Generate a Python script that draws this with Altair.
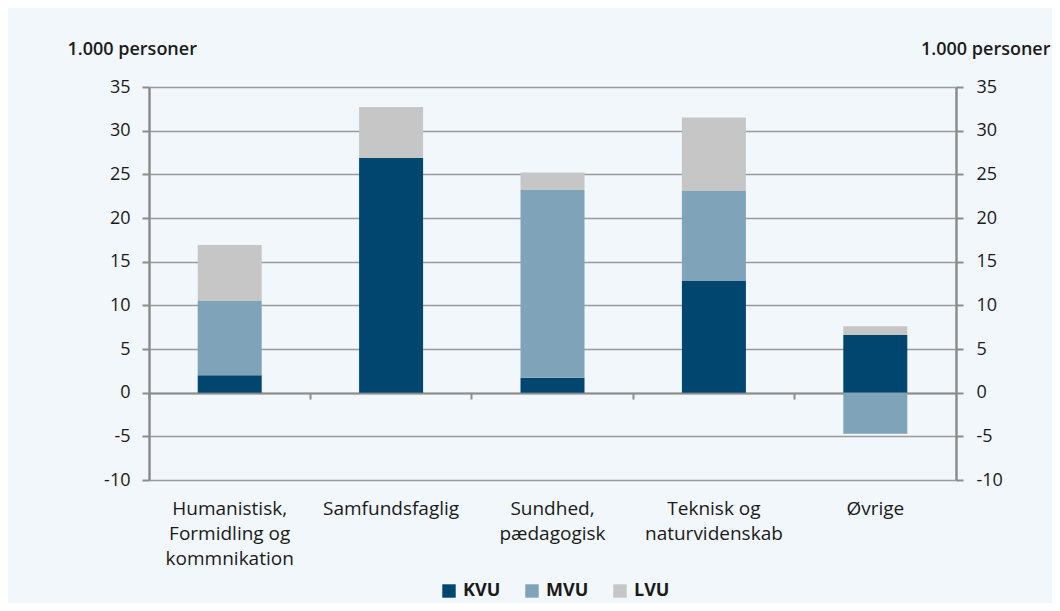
import altair as alt
import pandas as pd

categories = ["Humanistisk,|Formidling og|kommnikation", "Samfundsfaglig",
              "Sundhed,|pædagogisk", "Teknisk og|naturvidenskab", "Øvrige"]
series = ["KVU", "MVU", "LVU"]
kvu = [2.0, 26.9, 1.7, 12.8, 6.6]
mvu = [8.5, 0.0, 21.5, 10.3, -4.7]
lvu = [6.4, 5.8, 2.0, 8.4, 1.0]
y_ticks = [-10, -5, 0, 5, 10, 15, 20, 25, 30, 35]
colors = ["#00466e", "#7fa3b8", "#c6c6c6"]

rows = []
for i, c in enumerate(categories):
    for j, (s, vals) in enumerate(zip(series, [kvu, mvu, lvu])):
        rows.append({"cat": c, "serie": s, "value": vals[i], "ord": j})
df = pd.DataFrame(rows)

FONT = "Open Sans"
GRID = "#9a9a9a"
AXC = "#8c8c8c"
TXT = "#1a1a1a"

base = alt.Chart(df)

bars = base.mark_bar(size=64).encode(
    x=alt.X("cat:N", sort=categories,
            scale=alt.Scale(paddingInner=0, paddingOuter=0),
            axis=alt.Axis(title=None, labelExpr="split(datum.value, '|')",
                          domain=False, ticks=False, grid=False, labelAngle=0,
                          labelPadding=19, labelFontSize=19, labelLineHeight=25,
                          labelBaseline="top", labelColor=TXT, labelFont=FONT)),
    y=alt.Y("value:Q", stack="zero",
            scale=alt.Scale(domain=[-10, 35], nice=False, zero=False),
            axis=alt.Axis(values=y_ticks, labelExpr="datum.value + ''",
                          title="1.000 personer", titleAngle=0,
                          titleAlign="left", titleX=-82, titleY=-33,
                          titleBaseline="alphabetic", titleFontSize=18,
                          titleFontWeight=600, titleFont=FONT, titleColor=TXT,
                          grid=True, gridColor=GRID, gridWidth=1.6,
                          domainColor=AXC, domainWidth=2.5,
                          tickColor=AXC, tickWidth=2, tickSize=7,
                          labelPadding=12, labelFontSize=18, labelFont=FONT,
                          labelColor=TXT)),
    color=alt.Color("serie:N", scale=alt.Scale(domain=series, range=colors),
                    legend=alt.Legend(title=None, orient="none", legendX=291,
                                      legendY=495, direction="horizontal",
                                      symbolType="square", symbolSize=180,
                                      symbolStrokeWidth=0, labelFontSize=18,
                                      labelFontWeight="bold", labelFont=FONT,
                                      labelColor=TXT, columnPadding=22,
                                      labelOffset=5)),
    order=alt.Order("ord:Q"),
)

right = base.mark_bar(size=64, opacity=0).encode(
    x=alt.X("cat:N", sort=categories,
            axis=alt.Axis(title=None, orient="bottom", offset=-87, labels=False,
                          bandPosition=0, domain=True, domainColor=AXC,
                          domainWidth=2, ticks=True, tickColor=AXC, tickWidth=2,
                          tickSize=6, grid=False)),
    y=alt.Y("value:Q", stack="zero",
            axis=alt.Axis(orient="right", values=y_ticks,
                          labelExpr="datum.value + ''", title="1.000 personer",
                          titleAngle=0, titleAlign="right", titleX=94, titleY=-33,
                          titleBaseline="alphabetic", titleFontSize=18,
                          titleFontWeight=600, titleFont=FONT, titleColor=TXT,
                          grid=False, domainColor=AXC, domainWidth=2.5,
                          tickColor=AXC, tickWidth=2, tickSize=7,
                          labelPadding=13, labelFontSize=18, labelFont=FONT,
                          labelColor=TXT)),
    order=alt.Order("ord:Q"),
)

chart = alt.layer(bars, right).resolve_scale(
    x="shared", y="shared"
).resolve_axis(
    x="independent", y="independent"
).properties(
    width=807, height=393,
    padding={"left": 141, "top": 79, "right": 96, "bottom": 123},
    autosize=alt.AutoSizeParams(type="none"),
    background="#f2f7fc",
).configure_view(stroke=None)

chart.save("out.html", embed_options={"renderer": "svg", "actions": False})
